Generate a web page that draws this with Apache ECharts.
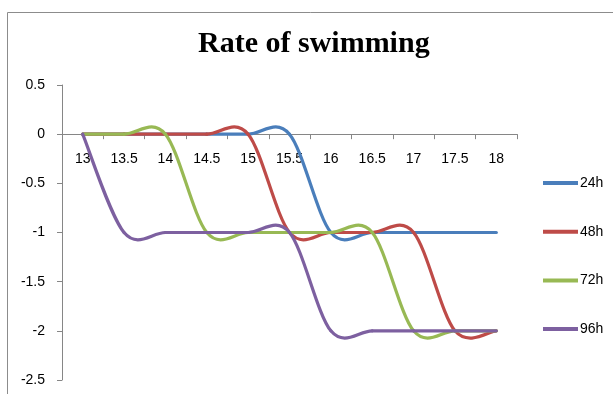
<!DOCTYPE html>
<html>
<head>
<meta charset="utf-8">
<script src="https://cdn.jsdelivr.net/npm/echarts@6/dist/echarts.min.js"></script>
<style>
  html, body { margin: 0; padding: 0; background: #fff; }
  #chart { width: 613px; height: 394px; }
</style>
</head>
<body>
<div id="chart"></div>
<script>
// Time points (hours, as category labels)
const hours = ['13', '13.5', '14', '14.5', '15', '15.5', '16', '16.5', '17', '17.5', '18'];

// Swimming rate per exposure group
const rate24h = [0, 0, 0, 0, 0, 0, -1, -1, -1, -1, -1];
const rate48h = [0, 0, 0, 0, 0, -1, -1, -1, -1, -2, -2];
const rate72h = [0, 0, 0, -1, -1, -1, -1, -1, -2, -2, -2];
const rate96h = [0, -1, -1, -1, -1, -1, -2, -2, -2, -2, -2];

const seriesNames = ['24h', '48h', '72h', '96h'];
const seriesData = [rate24h, rate48h, rate72h, rate96h];
const colors = ['#4A7EBB', '#BE4B48', '#98B954', '#7D60A0'];

const chart = echarts.init(document.getElementById('chart'));

const axisGray = '#868686';
const labelFont = { fontFamily: 'Liberation Sans, Arial, sans-serif', fontSize: 14, color: '#000' };

// Smoothed line: each item draws the cubic segment from point i to i+1,
// with Catmull-Rom tangents taken from the neighbouring points.
function smoothSegment(values, color) {
  return function (params, api) {
    const i = params.dataIndex;
    const n = values.length;
    if (i >= n - 1) return null;
    const p = k => {
      const j = Math.max(0, Math.min(n - 1, k));
      return api.coord([j, values[j]]);
    };
    const p0 = p(i - 1), p1 = p(i), p2 = p(i + 1), p3 = p(i + 2);
    return {
      type: 'bezierCurve',
      shape: {
        x1: p1[0], y1: p1[1],
        cpx1: p1[0] + (p2[0] - p0[0]) / 6, cpy1: p1[1] + (p2[1] - p0[1]) / 6,
        cpx2: p2[0] - (p3[0] - p1[0]) / 6, cpy2: p2[1] - (p3[1] - p1[1]) / 6,
        x2: p2[0], y2: p2[1]
      },
      style: { stroke: color, lineWidth: 3.2, fill: null, lineCap: 'round' }
    };
  };
}

chart.setOption({
  animation: false,
  backgroundColor: '#fff',
  color: colors,
  graphic: [{
    type: 'rect',
    shape: { x: 7.5, y: 12.5, width: 700, height: 500 },
    style: { fill: 'none', stroke: '#8c8c8c', lineWidth: 1 },
    silent: true
  }],
  title: {
    text: 'Rate of swimming',
    left: 198,
    top: 29,
    padding: 0,
    textStyle: {
      fontFamily: 'Liberation Serif, Times New Roman, serif',
      fontSize: 30,
      fontWeight: 'bold',
      color: '#000'
    }
  },
  legend: {
    orient: 'vertical',
    left: 543,
    top: 176,
    padding: 0,
    itemWidth: 35,
    itemHeight: 4,
    itemGap: 34.7,
    icon: 'rect',
    textStyle: { fontFamily: 'Liberation Sans, Arial, sans-serif', fontSize: 14, color: '#000', padding: [0, 0, 0, -3] },
    data: seriesNames
  },
  grid: { left: 62, right: 96, top: 85, bottom: 14, containLabel: false, outerBoundsMode: 'none' },
  xAxis: {
    type: 'category',
    data: hours,
    boundaryGap: true,
    position: 'bottom',
    axisLine: { onZero: false, lineStyle: { color: axisGray, width: 1 } },
    axisTick: { show: true, inside: false, length: 5, lineStyle: { color: axisGray } },
    axisLabel: Object.assign({ margin: 18, interval: 0 }, labelFont),
    splitLine: { show: false }
  },
  yAxis: {
    type: 'value',
    min: -2.5,
    max: 0.5,
    interval: 0.5,
    axisLine: { show: true, lineStyle: { color: axisGray, width: 1 } },
    axisTick: { show: true, length: 5, lineStyle: { color: axisGray } },
    axisLabel: Object.assign({ margin: 17 }, labelFont),
    splitLine: { show: false }
  },
  series: seriesNames.map((name, i) => ({
    name: name,
    type: 'custom',
    data: seriesData[i].map((v, k) => [k, v]),
    encode: { x: 0, y: 1 },
    renderItem: smoothSegment(seriesData[i], colors[i]),
    itemStyle: { color: colors[i] }
  }))
});

// Place the category axis on the y = 0 line.
const yZero = chart.convertToPixel({ yAxisIndex: 0 }, 0);
const yMin = chart.convertToPixel({ yAxisIndex: 0 }, -2.5);
chart.setOption({ xAxis: { offset: yZero - yMin } });
</script>
</body>
</html>
